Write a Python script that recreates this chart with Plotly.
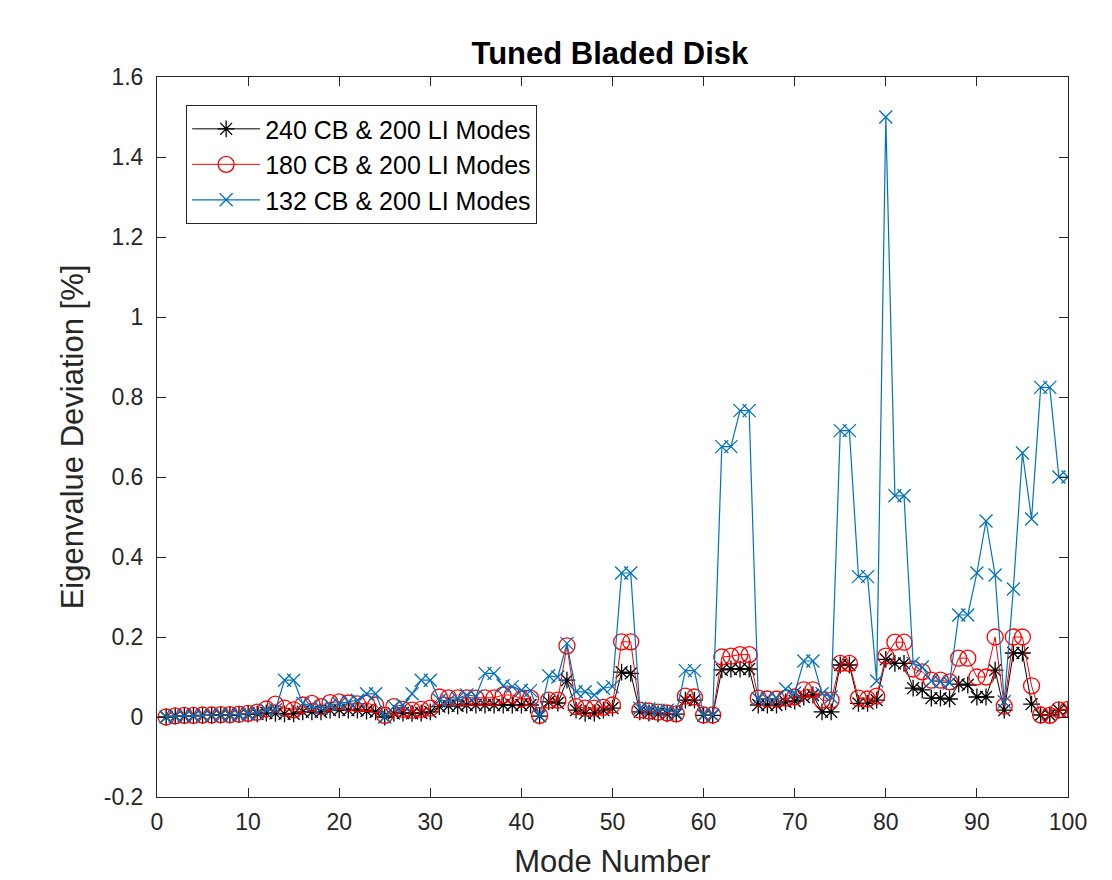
import plotly.graph_objects as go

modes = list(range(1, 101))

cb240 = [0.0, 0.002, 0.003, 0.003, 0.004, 0.004, 0.005, 0.005, 0.006, 0.007,
         0.008, 0.010, 0.009, 0.008, 0.008, 0.013, 0.013, 0.013, 0.017, 0.018,
         0.017, 0.017, 0.015, 0.013, 0.0, 0.009, 0.010, 0.009, 0.010, 0.013,
         0.026, 0.028, 0.028, 0.030, 0.030, 0.030, 0.030, 0.030, 0.030, 0.030,
         0.030, 0.002, 0.038, 0.035, 0.092, 0.017, 0.009, 0.010, 0.017, 0.022,
         0.112, 0.109, 0.013, 0.010, 0.008, 0.008, 0.007, 0.042, 0.042, 0.004,
         0.004, 0.118, 0.120, 0.120, 0.120, 0.030, 0.030, 0.030, 0.038, 0.040,
         0.050, 0.055, 0.013, 0.013, 0.130, 0.130, 0.034, 0.034, 0.042, 0.144,
         0.134, 0.134, 0.072, 0.068, 0.047, 0.047, 0.045, 0.082, 0.080, 0.050,
         0.050, 0.117, 0.017, 0.160, 0.160, 0.032, 0.005, 0.005, 0.017, 0.019]

cb180 = [0.0, 0.003, 0.004, 0.004, 0.005, 0.005, 0.006, 0.006, 0.007, 0.009,
         0.012, 0.020, 0.032, 0.022, 0.018, 0.030, 0.034, 0.026, 0.036, 0.038,
         0.035, 0.033, 0.034, 0.030, 0.004, 0.026, 0.019, 0.017, 0.019, 0.022,
         0.050, 0.048, 0.048, 0.048, 0.047, 0.048, 0.048, 0.055, 0.055, 0.045,
         0.047, 0.004, 0.042, 0.042, 0.178, 0.026, 0.022, 0.022, 0.024, 0.030,
         0.188, 0.188, 0.017, 0.015, 0.012, 0.010, 0.008, 0.052, 0.050, 0.005,
         0.005, 0.150, 0.152, 0.156, 0.156, 0.047, 0.045, 0.045, 0.047, 0.050,
         0.068, 0.068, 0.042, 0.042, 0.134, 0.134, 0.047, 0.045, 0.052, 0.152,
         0.187, 0.187, 0.120, 0.113, 0.092, 0.092, 0.088, 0.147, 0.147, 0.100,
         0.100, 0.200, 0.027, 0.200, 0.200, 0.078, 0.005, 0.004, 0.018, 0.019]

cb132 = [0.0, 0.002, 0.003, 0.003, 0.004, 0.004, 0.005, 0.005, 0.006, 0.008,
         0.010, 0.018, 0.018, 0.092, 0.092, 0.034, 0.026, 0.022, 0.030, 0.033,
         0.038, 0.042, 0.058, 0.058, 0.0, 0.026, 0.030, 0.058, 0.092, 0.092,
         0.042, 0.040, 0.047, 0.055, 0.052, 0.109, 0.109, 0.078, 0.076, 0.067,
         0.066, 0.003, 0.103, 0.100, 0.184, 0.063, 0.063, 0.055, 0.072, 0.076,
         0.360, 0.360, 0.022, 0.020, 0.017, 0.017, 0.010, 0.116, 0.116, 0.005,
         0.005, 0.676, 0.676, 0.766, 0.766, 0.045, 0.045, 0.047, 0.070, 0.060,
         0.140, 0.140, 0.058, 0.050, 0.716, 0.716, 0.351, 0.351, 0.090, 1.500,
         0.553, 0.553, 0.134, 0.125, 0.090, 0.088, 0.085, 0.255, 0.255, 0.360,
         0.490, 0.355, 0.038, 0.320, 0.660, 0.495, 0.824, 0.824, 0.600, 0.600]

x_ticks = [0, 10, 20, 30, 40, 50, 60, 70, 80, 90, 100]
y_ticks = [-0.2, 0, 0.2, 0.4, 0.6, 0.8, 1.0, 1.2, 1.4, 1.6]
y_tick_text = ["-0.2", "0", "0.2", "0.4", "0.6", "0.8", "1", "1.2", "1.4", "1.6"]

FONT = "Liberation Sans, Arial, Helvetica, sans-serif"
AX = "#262626"

fig = go.Figure()
fig.add_trace(go.Scatter(
    x=modes, y=cb240, mode="lines+markers", name="240 CB & 200 LI Modes",
    line=dict(color="#000000", width=1),
    marker=dict(symbol="asterisk-open", size=14, color="#000000",
                line=dict(color="#000000", width=1.3))))
fig.add_trace(go.Scatter(
    x=modes, y=cb180, mode="lines+markers", name="180 CB & 200 LI Modes",
    line=dict(color="#FF0000", width=1),
    marker=dict(symbol="circle-open", size=16, color="#FF0000",
                line=dict(color="#FF0000", width=1.3))))
fig.add_trace(go.Scatter(
    x=modes, y=cb132, mode="lines+markers", name="132 CB & 200 LI Modes",
    line=dict(color="#0072BD", width=1.2),
    marker=dict(symbol="x-thin-open", size=13, color="#0072BD",
                line=dict(color="#0072BD", width=1.3))))

axis_common = dict(
    showline=True, linecolor=AX, linewidth=1, mirror="ticks",
    ticks="inside", ticklen=9, tickcolor=AX, tickwidth=1,
    showgrid=False, zeroline=False,
    tickfont=dict(family=FONT, size=23, color=AX),
)

fig.update_layout(
    width=1112, height=880,
    paper_bgcolor="white", plot_bgcolor="white",
    margin=dict(l=149, r=52, t=69, b=91),
    title=dict(text="<b>Tuned Bladed Disk</b>", x=0.5413, xanchor="center",
               y=0.949, yanchor="middle",
               font=dict(family=FONT, size=31, color="#000000")),
    xaxis=dict(range=[0, 100], tickvals=x_ticks, ticklabelstandoff=4,
               title=dict(text="Mode Number", standoff=16,
                          font=dict(family=FONT, size=31, color=AX)),
               **axis_common),
    yaxis=dict(range=[-0.2, 1.6], tickvals=y_ticks, ticktext=y_tick_text,
               ticklabelstandoff=8,
               title=dict(text="Eigenvalue Deviation [%]", standoff=10,
                          font=dict(family=FONT, size=31, color=AX)),
               **axis_common),
    legend=dict(x=0.032, y=0.961, xanchor="left", yanchor="top",
                bgcolor="white", bordercolor=AX, borderwidth=1,
                font=dict(family=FONT, size=25, color="#000000"),
                itemwidth=68, tracegroupgap=0),
    showlegend=True,
)

fig.write_html("out.html")
